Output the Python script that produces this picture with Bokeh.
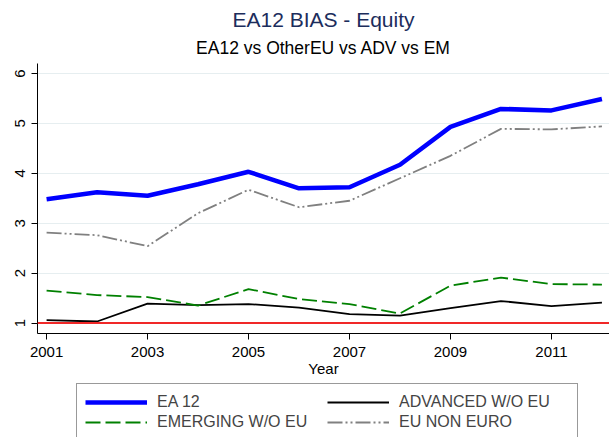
from bokeh.plotting import figure
from bokeh.models import Title, Span, Legend, LegendItem, FixedTicker, Range1d
from bokeh.layouts import column
from bokeh.embed import file_html
from bokeh.resources import INLINE

years = [2001, 2002, 2003, 2004, 2005, 2006, 2007, 2008, 2009, 2010, 2011, 2012]
ea12 = [3.48, 3.62, 3.55, 3.78, 4.03, 3.70, 3.72, 4.17, 4.93, 5.29, 5.26, 5.49]
advanced = [1.06, 1.03, 1.39, 1.36, 1.38, 1.31, 1.18, 1.15, 1.30, 1.44, 1.34, 1.41]
emerging = [1.65, 1.56, 1.52, 1.35, 1.68, 1.48, 1.38, 1.19, 1.75, 1.91, 1.78, 1.77]
eu_non_euro = [2.81, 2.76, 2.54, 3.20, 3.67, 3.32, 3.45, 3.90, 4.35, 4.89, 4.88, 4.94]
x_ticks = [2001, 2003, 2005, 2007, 2009, 2011]
y_ticks = [1, 2, 3, 4, 5, 6]
ref_level = 1

series_labels = ["EA 12", "ADVANCED W/O EU", "EMERGING W/O EU", "EU NON EURO"]

FONT = "Liberation Sans"

p = figure(frame_width=572, frame_height=270, output_backend="svg", toolbar_location=None,
           x_range=Range1d(2000.82, 2012.15), y_range=Range1d(0.79, 6.2),
           min_border_left=37, min_border_right=0, min_border_top=63, min_border_bottom=50)
p.outline_line_color = None
p.background_fill_color = "white"
p.border_fill_color = "white"

p.add_layout(Title(text="EA12 vs OtherEU vs ADV vs EM", align="center", text_font=FONT,
                   text_font_size="17.5px", text_font_style="normal", text_color="black",
                   standoff=11, text_line_height=0.8), "above")
p.add_layout(Title(text="EA12 BIAS - Equity", align="center", text_font=FONT,
                   text_font_size="21px", text_font_style="normal", text_color="#1c2d5c",
                   standoff=0, text_line_height=0.8), "above")

# grid
p.xgrid.visible = False
p.ygrid.grid_line_color = "#e6eef0"
p.ygrid.grid_line_width = 1
p.ygrid.ticker = FixedTicker(ticks=y_ticks)

# axes
p.xaxis.ticker = FixedTicker(ticks=x_ticks)
p.yaxis.ticker = FixedTicker(ticks=y_ticks)
p.xaxis.axis_label = "Year"
for ax in (p.xaxis, p.yaxis):
    ax.axis_line_color = "black"
    ax.major_tick_line_color = "black"
    ax.minor_tick_line_color = None
    ax.major_tick_in = 0
    ax.major_tick_out = 6
    ax.major_label_text_font = FONT
    ax.major_label_text_font_size = "15px"
    ax.major_label_text_color = "black"
    ax.axis_label_text_font = FONT
    ax.axis_label_text_font_size = "15px"
    ax.axis_label_text_font_style = "normal"
    ax.axis_label_text_color = "black"
p.xaxis.major_label_standoff = 7
p.xaxis.axis_label_standoff = 0
p.yaxis.major_label_orientation = "vertical"
p.yaxis.major_label_standoff = 6

p.add_layout(Span(location=ref_level, dimension="width", line_color="#f02828", line_width=2))

styles = [
    dict(line_color="#0000ff", line_width=4.5),
    dict(line_color="black", line_width=1.8),
    dict(line_color="#008000", line_width=1.8, line_dash="15 5"),
    dict(line_color="#808080", line_width=1.8, line_dash="15 3 2 3 2 3"),
]
series = [ea12, advanced, emerging, eu_non_euro]
for vals, st in zip(series, styles):
    p.line(years, vals, **st)

# legend panel below (separate canvas; the series are drawn there out of view
# only so that the legend can show their line styles)
lg = figure(width=609, height=54, output_backend="svg", toolbar_location=None,
            x_axis_type=None, y_axis_type=None, min_border=0,
            x_range=Range1d(2000, 2013), y_range=Range1d(100, 101))
lg.outline_line_color = None
lg.xgrid.visible = False
lg.ygrid.visible = False
items = []
for lab, vals, st in zip(series_labels, series, styles):
    r = lg.line(years, vals, **st)
    items.append(LegendItem(label=lab, renderers=[r]))

legend = Legend(items=items, ncols=2, location=(39, -4), orientation="horizontal")
legend.label_text_font = FONT
legend.label_text_font_size = "16px"
legend.glyph_width = 62
legend.glyph_height = 20
legend.label_height = 20
legend.label_standoff = 10
legend.label_width = 170
legend.spacing = 0
legend.padding = 8
legend.margin = 0
legend.border_line_color = "#333333"
legend.border_line_width = 1
legend.background_fill_color = "white"
lg.add_layout(legend, "center")

layout = column(p, lg, spacing=0)
open("out.html", "w").write(file_html(layout, INLINE))
